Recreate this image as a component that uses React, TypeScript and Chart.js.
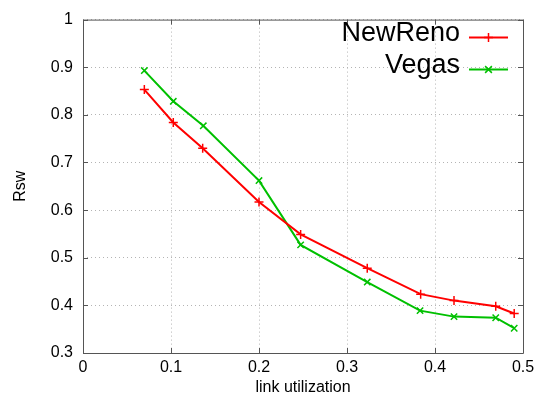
import React, { useEffect, useRef } from "react";
import { Chart, registerables } from "chart.js";

Chart.register(...registerables);

const seriesNames = ["NewReno", "Vegas"];
const newRenoX = [0.0697, 0.1026, 0.136, 0.2, 0.2473, 0.323, 0.3837, 0.4216, 0.469, 0.490];
const newRenoY = [0.853, 0.784, 0.730, 0.617, 0.549, 0.478, 0.4236, 0.410, 0.398, 0.383];
const vegasX = [0.0697, 0.1026, 0.1367, 0.2, 0.2473, 0.323, 0.383, 0.4216, 0.469, 0.490];
const vegasY = [0.893, 0.8285, 0.777, 0.662, 0.527, 0.449, 0.389, 0.3764, 0.374, 0.352];
const xTickValues = [0, 0.1, 0.2, 0.3, 0.4, 0.5];
const xTickLabels = ["0", "0.1", "0.2", "0.3", "0.4", "0.5"];
const yTickValues = [0.3, 0.4, 0.5, 0.6, 0.7, 0.8, 0.9, 1];
const yTickLabels = ["0.3", "0.4", "0.5", "0.6", "0.7", "0.8", "0.9", "1"];
const colors = ["#ff0000", "#00c000"];
const markers = ["cross", "crossRot"];

const FONT = "'Liberation Sans', Arial, sans-serif";

const framePlugin = {
  id: "frame",
  afterDraw(chart: any) {
    const { ctx, chartArea } = chart;
    const { left, right, top, bottom } = chartArea;
    const xs = chart.scales.x;
    const ys = chart.scales.y;
    ctx.save();
    ctx.strokeStyle = "#555555";
    ctx.lineWidth = 1;
    ctx.beginPath();
    ctx.rect(left + 0.5, top + 0.5, right - left, bottom - top);
    ctx.stroke();
    const tl = 5;
    ctx.beginPath();
    xTickValues.forEach((v) => {
      const px = Math.round(xs.getPixelForValue(v)) + 0.5;
      ctx.moveTo(px, bottom);
      ctx.lineTo(px, bottom - tl);
      ctx.moveTo(px, top);
      ctx.lineTo(px, top + tl);
    });
    yTickValues.forEach((v) => {
      const py = Math.round(ys.getPixelForValue(v)) + 0.5;
      ctx.moveTo(left, py);
      ctx.lineTo(left + tl, py);
      ctx.moveTo(right, py);
      ctx.lineTo(right - tl, py);
    });
    ctx.stroke();

    // legend (gnuplot style: text right-aligned, then sample)
    ctx.font = `27px ${FONT}`;
    ctx.textAlign = "right";
    ctx.textBaseline = "alphabetic";
    const rows = [37, 69];
    seriesNames.forEach((name, i) => {
      const y = rows[i];
      ctx.fillStyle = "#000000";
      ctx.fillText(name, 460, y + 4);
      ctx.strokeStyle = colors[i];
      ctx.lineWidth = 2;
      ctx.beginPath();
      ctx.moveTo(469, y + 0.5);
      ctx.lineTo(508, y + 0.5);
      ctx.stroke();
      const cx = 488.5;
      const cy = y + 0.5;
      const r = 4.5;
      ctx.lineWidth = 1.5;
      ctx.beginPath();
      if (i === 0) {
        ctx.moveTo(cx - r, cy);
        ctx.lineTo(cx + r, cy);
        ctx.moveTo(cx, cy - r);
        ctx.lineTo(cx, cy + r);
      } else {
        const d = r * 0.75;
        ctx.moveTo(cx - d, cy - d);
        ctx.lineTo(cx + d, cy + d);
        ctx.moveTo(cx - d, cy + d);
        ctx.lineTo(cx + d, cy - d);
      }
      ctx.stroke();
    });
    ctx.restore();
  },
};

export default function App() {
  const ref = useRef<HTMLCanvasElement>(null);
  useEffect(() => {
    document.body.style.margin = "0";
    const canvas = ref.current!;
    const mk = (i: number, xs: number[], ys: number[]) => ({
      label: seriesNames[i],
      data: xs.map((x, k) => ({ x, y: ys[k] })),
      borderColor: colors[i],
      backgroundColor: colors[i],
      borderWidth: 2,
      pointStyle: markers[i] as any,
      pointRadius: 4.5,
      pointBorderWidth: 1.5,
      pointBorderColor: colors[i],
      tension: 0,
      fill: false,
    });
    const chart = new Chart(canvas, {
      type: "line",
      data: {
        datasets: [mk(0, newRenoX, newRenoY), mk(1, vegasX, vegasY)],
      },
      options: {
        animation: false,
        responsive: false,
        maintainAspectRatio: false,
        layout: { padding: { left: 11, top: 17, right: 18, bottom: 0 } },
        plugins: {
          legend: { display: false },
          tooltip: { enabled: false },
        },
        scales: {
          x: {
            type: "linear",
            min: 0,
            max: 0.5,
            afterBuildTicks: (s: any) => {
              s.ticks = xTickValues.map((v) => ({ value: v }));
            },
            afterFit: (s: any) => {
              s.height = 45;
            },
            ticks: {
              callback: (_v: any, i: number) => xTickLabels[i],
              color: "#000000",
              font: { family: FONT, size: 16 },
              padding: 5,
              maxRotation: 0,
            },
            grid: {
              color: "#b4b4b4",
              lineWidth: 1,
              drawTicks: false,
              tickLength: 0,
            },
            border: { display: false, dash: [1, 3] },
            title: {
              display: true,
              text: "link utilization",
              color: "#000000",
              font: { family: FONT, size: 16 },
              padding: { top: 0, bottom: 1 },
            },
          },
          y: {
            type: "linear",
            min: 0.3,
            max: 1,
            afterBuildTicks: (s: any) => {
              s.ticks = yTickValues.map((v) => ({ value: v }));
            },
            afterFit: (s: any) => {
              s.width = 72;
            },
            ticks: {
              callback: (_v: any, i: number) => yTickLabels[i],
              color: "#000000",
              font: { family: FONT, size: 16 },
              padding: 10,
            },
            grid: {
              color: "#b4b4b4",
              lineWidth: 1,
              drawTicks: false,
              tickLength: 0,
            },
            border: { display: false, dash: [1, 3] },
            title: {
              display: true,
              text: "Rsw",
              color: "#000000",
              font: { family: FONT, size: 16 },
              padding: { top: 0, bottom: 0 },
            },
          },
        },
      },
      plugins: [framePlugin],
    });
    return () => chart.destroy();
  }, []);
  return (
    <div style={{ width: 541, height: 398, background: "#ffffff" }}>
      <canvas ref={ref} width={541} height={398} style={{ display: "block" }} />
    </div>
  );
}
